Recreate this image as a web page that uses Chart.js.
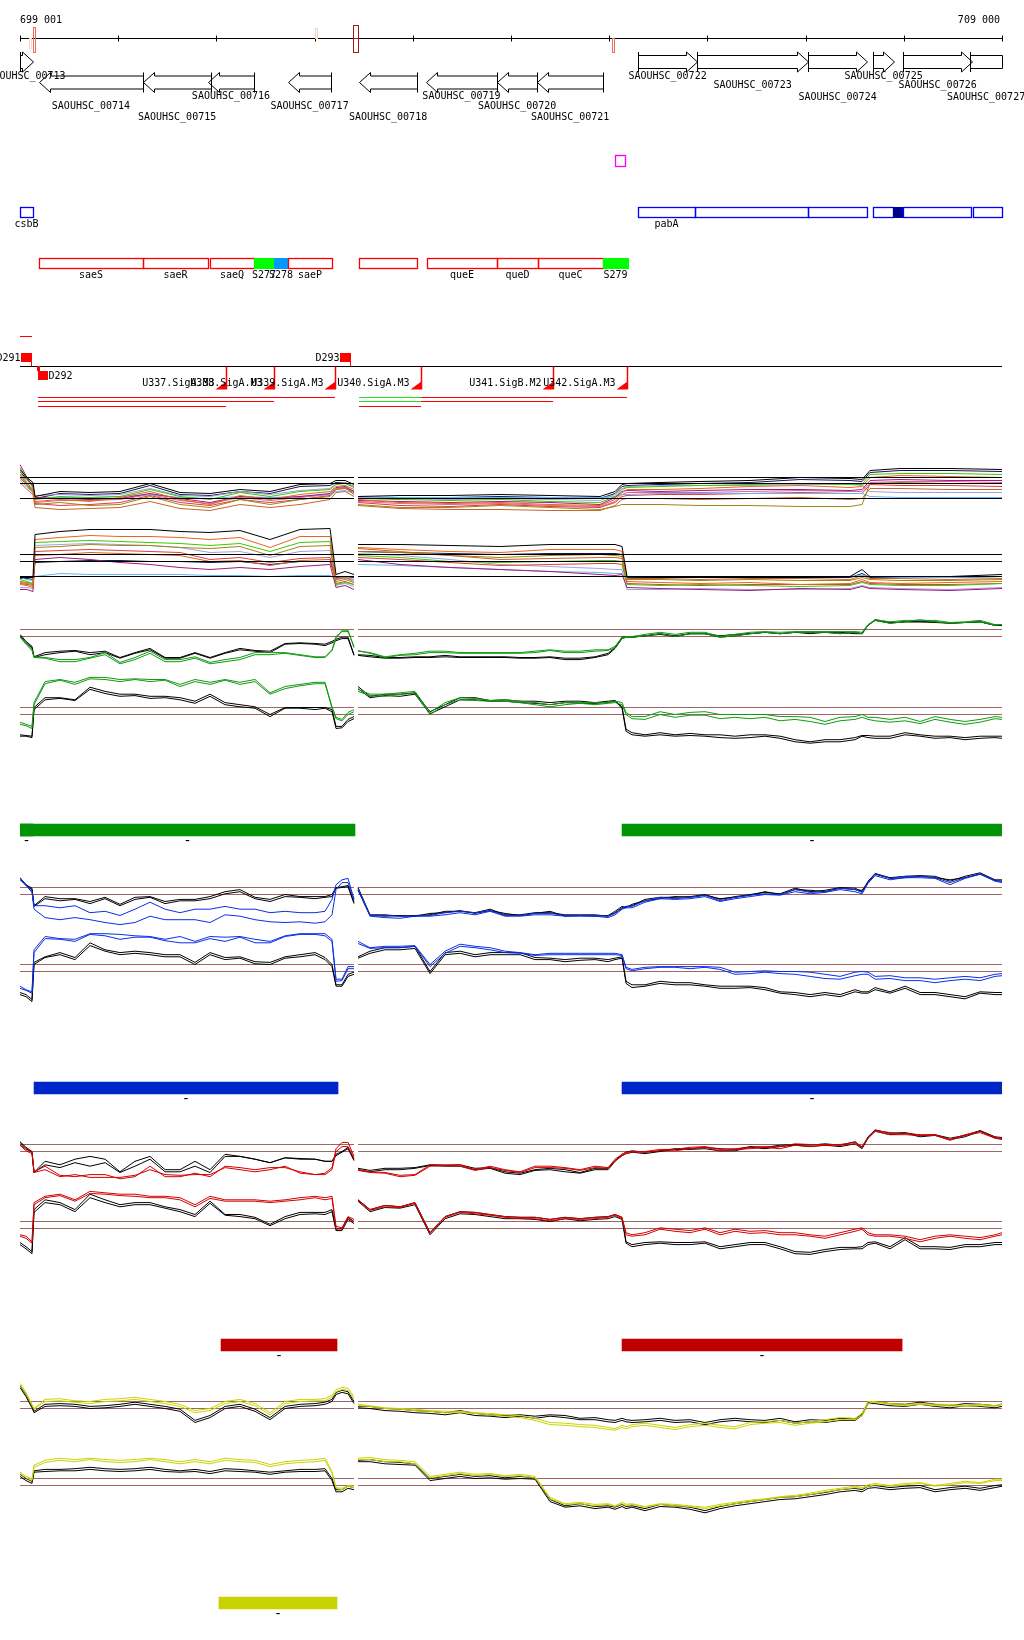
<!DOCTYPE html>
<html>
<head>
<meta charset="utf-8">
<script src="https://cdn.jsdelivr.net/npm/chart.js@4.4.1/dist/chart.umd.min.js"></script>
<style>
  body { margin: 0; background: #fff; }
  #page { position: relative; width: 1024px; height: 1640px; overflow: hidden; background: #fff; }
  #page canvas { position: absolute; left: 0; }
</style>
</head>
<body>
<div id="page"></div>
<script>
// ---- view window (bp) ----
const VIEW_START = 699001;
const VIEW_END = 709000;
const GAP_POS = 702420;

// ---- genes ----
const GENE_NAMES = ["SAOUHSC_00713", "SAOUHSC_00714", "SAOUHSC_00715", "SAOUHSC_00716", "SAOUHSC_00717",
  "SAOUHSC_00718", "SAOUHSC_00719", "SAOUHSC_00720", "SAOUHSC_00721", "SAOUHSC_00722", "SAOUHSC_00723",
  "SAOUHSC_00724", "SAOUHSC_00725", "SAOUHSC_00726", "SAOUHSC_00727"];
const GENE_START = [698700, 699194, 700255, 700915, 701730, 702453, 703135, 703860, 704268, 705294, 705895, 707025, 707687, 707993, 708675];
const GENE_END = [699133, 700253, 700946, 701384, 702168, 703044, 703858, 704266, 704938, 705895, 707025, 707626, 707901, 708695, 709400];
const GENE_STRAND = ["+", "-", "-", "-", "-", "-", "-", "-", "-", "+", "+", "+", "+", "+", "+"];

// marks on the ruler
const MARK_START = [699093, 699133, 702000, 702392, 705030];
const MARK_END = [699113, 699158, 702010, 702443, 705050];
const MARK_KIND = ["faint", "salmon", "peach", "dark", "salmonLow"];

// ---- feature boxes ----
const BLUE_NAMES = ["csbB", "pabA", "", "", "", "", "", ""];
const BLUE_START = [698950, 705294, 705874, 707025, 707687, 707891, 707993, 708705];
const BLUE_END = [699133, 705874, 707025, 707626, 707891, 707993, 708685, 709400];
const BLUE_KIND = ["open", "open", "open", "open", "open", "solid", "open", "open"];

const RED_NAMES = ["saeS", "saeR", "saeQ", "S277", "S278", "saeP", "", "queE", "queD", "queC", "S279"];
const RED_START = [699194, 700253, 700936, 701384, 701588, 701730, 702453, 703145, 703858, 704276, 704938];
const RED_END = [700253, 700915, 701384, 701588, 701730, 702178, 703044, 703858, 704276, 704938, 705192];
const RED_KIND = ["open", "open", "open", "srnaA", "srnaB", "open", "open", "open", "open", "open", "srnaA"];

const SPOT_START = 705060;
const SPOT_END = 705162;

// ---- terminators, promoters, transcripts ----
const TERM_NAMES = ["D291", "D292", "D293"];
const TERM_POS = [699113, 699184, 702362];
const TERM_STRAND = ["+", "-", "+"];

const PROM_NAMES = ["U337.SigA.M3", "U338.SigA.M3", "U339.SigA.M3", "U340.SigA.M3", "U341.SigB.M2", "U342.SigA.M3"];
const PROM_POS = [701099, 701587, 702209, 703084, 704429, 705182];

const TX_START = [699184, 699184, 699184, 702453, 703084, 702453, 703084, 702453];
const TX_END = [702209, 701587, 701099, 703084, 705182, 703084, 704429, 703084];
const TX_LANE = [0, 1, 2, 0, 0, 1, 1, 2];
const TX_KIND = ["main", "main", "main", "alt", "main", "alt", "main", "main"];
const SHORT_SEGMENT = [699001, 699123];

// ---- probe positions (bp) ----
const POS_LEFT = [699001, 699062, 699123, 699144, 699256, 699408, 699561, 699714, 699867, 700019, 700172, 700325,
  700478, 700630, 700783, 700936, 701089, 701241, 701394, 701547, 701700, 701852, 702005, 702107, 702178, 702219,
  702280, 702341, 702402];
const POS_RIGHT = [702443, 702565, 702718, 702871, 703023, 703176, 703329, 703482, 703634, 703787, 703940, 704093,
  704245, 704398, 704551, 704704, 704856, 704989, 705060, 705131, 705172, 705233, 705365, 705518, 705671, 705824,
  705976, 706129, 706282, 706435, 706587, 706740, 706893, 707046, 707198, 707351, 707504, 707575, 707636, 707708,
  707860, 708013, 708166, 708318, 708471, 708624, 708777, 708929, 709000];
const CPOS_LEFT = [699001, 699072, 699133, 699154, 699408, 699714, 700019, 700325, 700630, 700936, 701241, 701547,
  701852, 702158, 702219, 702311, 702402];
const CPOS_RIGHT = [702443, 702871, 703380, 703889, 704398, 704907, 705060, 705131, 705182, 705518, 705925, 706435,
  706944, 707453, 707575, 707656, 707962, 708471, 709000];

// ---- all-condition profiles (score) ----
const A_REF = [37, 31, 16];
const A_K = [[45,37,32,18,23,22,23,31,22,21,25,23,30,31,34,34,30], [18,19,19,20,19,18,23,30,31,32,33,34,37,36,35,44,46,46,45]];
const A_C1 = [[40,30,23,13,15,13,17,23,15,10,19,15,20,23,28,29,25], [15,12,11,12,10,9,15,22,25,25,26,28,29,27,28,37,39,38,37]];
const A_C2 = [[47,35,27,10,12,9,10,18,10,7,15,10,15,18,25,27,20], [10,7,7,9,7,5,8,10,10,10,9,9,8,8,10,31,32,31,31]];
const A_C3 = [[43,32,25,15,18,17,18,25,18,15,22,18,23,25,30,31,27], [16,15,14,15,13,12,18,25,27,28,29,30,31,30,30,40,41,41,40]];
const A_C4 = [[50,37,28,17,16,15,16,21,16,12,18,16,18,21,27,28,23], [14,13,12,13,12,10,17,23,24,23,24,25,25,24,25,34,35,34,34]];
const A_C5 = [[35,27,22,16,17,17,18,20,17,16,18,17,18,20,23,24,21], [18,17,17,17,17,17,18,20,20,21,21,21,21,21,21,18,17,17,17]];
const A_C6 = [[37,29,22,11,9,10,12,19,12,9,15,12,15,19,25,26,22], [12,9,8,10,8,7,12,18,19,20,20,21,22,21,21,30,29,29,28]];
const A_C7 = [[32,25,20,7,5,6,7,13,6,4,10,7,10,15,22,23,18], [9,6,5,5,4,4,9,15,16,16,15,16,17,15,16,26,26,25,25]];
const A_C8 = [[41,31,24,19,20,19,20,26,19,18,23,20,24,26,31,32,28], [17,16,15,16,15,14,20,26,28,29,29,29,30,30,29,23,22,22,22]];
const A_C9 = [[43,35,30,16,21,20,21,29,20,19,23,21,28,29,32,32,28], [16,17,17,18,17,16,21,28,29,30,31,32,35,34,33,42,44,44,43]];
const A_C10 = [[38,31,24,12,14,14,15,20,14,11,17,14,17,20,26,27,23], [13,11,10,11,9,8,13,20,22,22,22,23,24,23,23,32,33,33,32]];

const B_REF = [45, 38, 23];
const B_K = [[22,22,22,65,68,70,70,70,68,67,69,60,70,71,25,28,25], [55,55,54,53,55,55,55,53,23,22,22,22,22,23,30,23,23,23,25]];
const B_C1 = [[15,14,12,60,62,64,63,63,62,60,62,52,63,63,20,22,18], [52,50,48,47,50,50,50,48,18,17,16,17,15,16,20,17,16,17,18]];
const B_C2 = [[17,16,15,52,53,55,54,54,52,51,53,44,53,54,18,20,17], [48,47,44,42,44,45,44,43,20,20,19,20,19,19,22,20,19,19,20]];
const B_C3 = [[20,18,16,57,58,59,58,57,56,54,56,48,57,58,15,17,15], [44,42,38,37,38,39,39,38,15,14,15,14,13,14,17,15,14,14,16]];
const B_C4 = [[10,10,8,40,42,40,37,35,32,30,32,30,33,35,12,14,10], [40,35,32,30,28,25,24,25,12,11,10,9,11,10,13,11,10,9,11]];
const B_C5 = [[22,20,19,23,26,25,25,25,25,24,24,23,24,24,20,21,20], [35,34,32,30,28,27,26,26,23,23,23,23,23,23,24,23,22,22,23]];
const B_C6 = [[16,15,14,48,49,50,49,48,47,40,42,37,41,42,16,18,15], [42,40,37,34,35,36,36,35,16,15,14,15,15,15,18,16,15,15,16]];
const B_C7 = [[18,17,16,44,45,47,46,45,44,38,39,34,39,40,21,22,20], [51,48,44,40,41,42,42,41,21,21,20,21,21,20,24,21,21,20,21]];
const B_C8 = [[12,12,11,54,55,56,55,54,52,47,48,42,48,49,14,16,13], [46,44,40,35,33,31,30,30,10,10,11,10,10,11,14,12,11,10,12]];
const B_C9 = [[21,21,20,37,38,39,39,38,38,37,38,35,38,38,22,23,22], [48,47,46,45,46,46,46,45,22,22,22,22,22,22,26,22,22,22,23]];

// ---- condition profiles (log2 signal); thresholds ----
const THRESHOLD_LOW = 5;
const THRESHOLD_HIGH = 6;

const C_UP_K1 = [[5.3,4.3,3.6,2.1,2.7,2.9,3.0,2.7,2.9,2.0,2.7,3.3,2.0,2.0,2.7,2.0,2.7,3.3,3.0,2.9,4.0,4.1,4.0,3.9,4.3,4.6,4.9,4.9,2.4],
  [2.4,2.3,2.0,2.0,2.1,2.1,2.3,2.1,2.1,2.1,2.1,2.0,2.0,2.1,1.9,1.9,2.1,2.6,3.4,4.9,5.0,4.9,5.1,5.3,5.0,5.4,5.4,5.1,5.3,5.4,5.6,5.4,5.6,5.4,5.6,5.6,5.4,5.4,6.6,7.4,7.0,7.1,7.1,7.0,6.9,7.0,7.1,6.6,6.6]];
const C_UP_K2 = [[5.1,4.1,3.4,2.0,2.4,2.7,2.9,2.4,2.7,1.9,2.6,3.1,1.9,1.9,2.6,1.9,2.6,3.1,2.9,2.7,3.9,4.0,3.9,3.7,4.1,4.4,4.7,4.7,2.3],
  [2.3,2.1,1.9,1.9,2.0,2.0,2.1,2.0,2.0,2.0,2.0,1.9,1.9,2.0,1.7,1.7,2.0,2.4,3.3,4.7,4.9,4.9,5.1,5.4,5.1,5.4,5.4,4.9,5.1,5.4,5.6,5.4,5.6,5.6,5.6,5.4,5.6,5.4,6.6,7.3,6.9,7.1,7.1,7.1,6.9,7.0,7.1,6.6,6.6]];
const C_UP_G1 = [[5.0,4.1,3.1,2.1,2.0,1.7,1.7,2.0,2.7,1.3,2.0,2.9,1.7,1.7,2.1,1.3,1.7,2.0,2.7,2.7,2.7,2.4,2.1,2.1,3.1,5.0,5.7,5.7,3.6],
  [2.9,2.7,2.1,2.4,2.6,2.9,2.9,2.7,2.7,2.7,2.7,2.7,2.9,3.1,2.9,2.9,3.1,3.1,3.6,4.9,5.0,5.0,5.3,5.6,5.3,5.6,5.6,5.0,5.3,5.6,5.7,5.6,5.7,5.7,5.7,5.7,5.7,5.6,6.7,7.4,7.1,7.3,7.3,7.3,7.0,7.1,7.3,6.7,6.7]];
const C_UP_G2 = [[4.9,3.9,3.0,2.0,1.9,1.4,1.4,1.9,2.4,1.1,1.7,2.6,1.4,1.4,1.9,1.1,1.4,1.7,2.4,2.4,2.6,2.3,2.0,2.0,3.0,4.7,5.9,5.9,3.4],
  [3.0,2.6,2.0,2.3,2.4,2.7,2.7,2.6,2.6,2.6,2.6,2.6,2.7,3.0,2.7,2.7,2.9,3.0,3.4,4.7,4.9,4.9,5.1,5.4,5.0,5.4,5.4,4.9,5.1,5.4,5.6,5.4,5.6,5.6,5.6,5.4,5.6,5.4,6.6,7.3,6.9,7.1,7.4,7.1,6.9,7.0,7.1,6.6,6.7]];
const C_LO_K1 = [[1.9,1.9,1.7,6.0,7.4,7.4,7.1,8.9,8.3,7.9,7.9,7.6,7.6,7.4,6.9,7.9,6.7,6.4,6.1,5.0,6.0,6.0,6.0,6.0,5.7,3.3,3.3,4.3,4.7],
  [9.0,7.6,7.9,7.9,8.1,5.4,6.4,7.4,7.4,7.0,7.1,6.9,6.9,6.7,6.9,6.9,6.7,6.9,7.0,6.1,2.9,2.4,2.1,2.4,2.1,2.3,2.1,2.1,1.9,2.1,2.1,1.9,1.4,1.1,1.4,1.4,1.7,2.0,2.0,1.9,1.9,2.4,2.1,1.9,1.9,1.7,1.9,1.9,1.9]];
const C_LO_K2 = [[2.1,2.0,1.9,5.7,7.1,7.3,7.0,8.6,8.0,7.6,7.7,7.3,7.4,7.1,6.6,7.6,6.4,6.1,5.9,4.7,5.9,5.9,5.7,5.9,5.4,3.0,3.1,4.0,4.4],
  [8.7,7.4,7.7,7.6,7.9,5.1,6.1,7.1,7.1,6.9,6.9,6.7,6.6,6.4,6.7,6.6,6.6,6.7,6.9,5.9,2.6,2.1,1.9,2.1,1.9,2.0,1.9,1.7,1.6,1.7,1.9,1.6,1.1,0.9,1.1,1.1,1.4,1.9,1.7,1.6,1.6,2.1,1.9,1.6,1.7,1.4,1.6,1.7,1.6]];
const C_LO_G1 = [[3.9,3.6,3.3,6.7,9.7,10.0,9.6,10.3,10.3,10.0,10.1,10.0,10.0,9.3,10.0,9.6,10.0,9.6,10.0,8.1,9.0,9.3,9.6,9.6,6.1,4.6,4.3,5.3,5.7],
  [8.6,7.9,7.9,8.1,8.3,5.3,6.7,7.4,7.3,7.0,7.1,6.9,6.7,6.4,6.7,6.7,6.7,6.7,6.9,6.7,5.3,4.7,4.7,5.4,5.0,5.3,5.4,5.0,5.0,5.0,5.0,4.7,4.7,4.6,4.0,4.6,4.7,5.0,4.6,4.6,4.3,4.6,4.0,4.7,4.3,4.0,4.3,4.7,4.6]];
const C_LO_G2 = [[3.6,3.4,3.0,6.4,9.4,9.9,9.3,10.1,10.0,9.7,10.0,9.7,9.9,9.0,9.7,9.3,9.9,9.3,9.7,7.9,8.7,9.1,9.4,9.4,5.9,4.4,4.1,5.0,5.4],
  [8.3,7.7,7.6,7.9,8.0,5.0,6.4,7.1,7.0,6.9,6.9,6.7,6.4,6.1,6.4,6.6,6.4,6.6,6.7,6.4,5.0,4.4,4.3,5.0,4.6,4.9,4.9,4.4,4.6,4.4,4.6,4.1,4.3,4.0,3.6,4.1,4.3,4.6,4.3,4.1,3.9,4.1,3.7,4.3,3.9,3.6,3.9,4.4,4.3]];

const E_UP_K1 = [[7.4,6.4,5.9,3.4,4.7,4.4,4.4,4.0,4.6,3.6,4.6,4.7,4.0,4.3,4.3,4.7,5.4,5.7,4.6,4.3,5.0,4.7,4.7,4.7,5.0,6.0,6.1,6.3,3.9],
  [6.0,2.1,2.1,1.9,2.0,2.1,2.6,2.6,2.4,2.9,2.1,2.1,2.4,2.4,2.1,2.1,2.1,1.9,2.4,3.1,3.3,3.4,4.3,4.6,4.6,4.7,5.0,4.3,4.7,5.0,5.3,5.1,5.9,5.4,5.6,6.0,5.9,5.4,6.9,8.0,7.4,7.6,7.7,7.6,6.9,7.6,8.1,7.1,7.1]];
const E_UP_K2 = [[7.3,6.3,5.7,3.3,4.4,4.1,4.3,3.7,4.4,3.4,4.3,4.6,3.7,4.1,4.1,4.4,5.1,5.4,4.4,4.0,4.7,4.6,4.4,4.6,4.7,5.9,6.0,6.1,3.7],
  [5.6,2.0,1.9,2.0,1.9,2.3,2.4,2.7,2.3,2.7,2.3,2.0,2.3,2.6,1.9,2.0,1.9,2.0,2.6,3.3,3.1,3.6,4.1,4.4,4.7,4.6,4.9,4.4,4.6,4.9,5.4,5.0,5.7,5.6,5.4,5.9,5.7,5.6,6.7,7.9,7.3,7.4,7.6,7.4,7.1,7.4,7.9,7.0,6.9]];
const E_UP_B1 = [[7.4,6.4,5.4,3.4,3.4,3.1,3.4,2.4,2.6,2.0,2.9,3.9,2.9,2.4,2.9,2.9,3.3,2.9,2.9,2.4,2.6,2.4,2.4,2.6,4.3,6.4,7.1,7.3,4.3],
  [5.9,2.0,2.0,1.9,1.9,2.0,2.4,2.6,2.4,2.7,2.0,2.0,2.3,2.3,2.0,2.0,2.0,1.9,2.3,3.0,3.3,3.3,4.1,4.6,4.4,4.6,4.9,4.1,4.6,4.9,5.1,5.0,5.7,5.3,5.4,5.9,5.7,5.3,6.7,8.0,7.3,7.6,7.6,7.4,6.7,7.4,8.0,7.0,6.9]];
const E_UP_B2 = [[7.1,6.3,5.3,2.9,1.7,1.4,1.7,1.4,1.0,0.7,1.0,1.9,1.4,1.4,1.4,1.0,2.1,1.9,1.4,1.1,1.0,1.1,0.9,1.1,2.1,5.7,6.7,6.7,4.3],
  [5.7,1.9,1.7,1.6,1.9,1.9,2.1,2.4,2.1,2.6,1.9,1.9,2.1,2.1,1.9,1.9,1.9,1.7,2.1,2.9,3.1,3.1,3.9,4.4,4.3,4.4,4.7,4.0,4.4,4.7,5.0,4.9,5.4,5.1,5.3,5.7,5.4,5.1,6.6,7.7,7.1,7.4,7.4,7.3,6.4,7.3,7.9,6.9,6.7]];
const E_LO_K1 = [[2.0,1.7,1.0,6.3,7.1,7.7,7.0,9.1,8.1,7.7,7.9,7.7,7.4,7.4,6.3,7.7,7.0,7.1,6.4,6.3,7.1,7.4,7.7,7.0,6.0,3.1,3.1,4.6,4.9],
  [7.1,7.9,8.4,8.4,8.6,5.0,7.7,7.9,7.4,7.7,7.7,7.7,7.0,6.9,6.7,6.9,6.9,6.7,6.9,7.1,3.6,3.1,3.1,3.6,3.4,3.4,3.1,2.9,2.9,2.9,2.7,2.1,2.0,1.7,2.0,1.7,2.4,2.1,2.1,2.7,2.1,2.9,2.0,2.0,1.7,1.4,2.1,2.0,2.0]];
const E_LO_K2 = [[1.7,1.4,0.7,6.0,7.0,7.4,6.7,8.7,7.9,7.4,7.6,7.4,7.1,7.1,6.0,7.4,6.7,6.9,6.1,6.0,6.9,7.1,7.4,6.7,5.7,2.9,2.9,4.3,4.6],
  [6.9,7.6,8.1,8.1,8.3,4.7,7.4,7.6,7.1,7.4,7.4,7.4,6.7,6.7,6.4,6.6,6.7,6.4,6.7,6.9,3.3,2.7,2.9,3.3,3.1,3.1,2.9,2.6,2.6,2.7,2.4,1.9,1.7,1.4,1.7,1.4,2.1,1.9,1.9,2.4,1.9,2.6,1.7,1.7,1.4,1.1,1.9,1.7,1.7]];
const E_LO_B1 = [[2.9,2.4,2.1,8.1,10.0,9.7,9.6,10.4,10.4,10.3,10.1,10.0,9.6,10.0,9.3,10.0,9.9,10.0,9.6,9.3,10.1,10.4,10.4,10.4,9.6,3.9,3.9,5.7,5.7],
  [9.3,8.4,8.6,8.6,8.7,6.0,7.9,8.9,8.6,8.4,7.9,7.7,7.4,7.6,7.6,7.6,7.6,7.6,7.6,7.4,5.6,5.3,5.6,5.7,5.7,5.7,5.7,5.6,4.9,5.0,5.1,5.0,5.0,4.9,4.6,4.3,4.9,5.0,4.9,4.3,4.4,4.1,4.1,3.9,4.1,4.3,4.1,4.6,4.7]];
const E_LO_B2 = [[2.6,2.3,1.9,7.7,9.7,9.6,9.3,10.3,10.1,9.6,9.9,9.9,9.4,9.1,9.1,9.7,9.3,9.9,9.1,9.1,10.0,10.3,10.3,10.1,9.3,3.6,3.7,5.4,5.4],
  [9.0,8.3,8.4,8.4,8.6,5.7,7.6,8.6,8.4,8.1,7.7,7.6,7.3,7.4,7.4,7.4,7.4,7.4,7.4,7.3,5.4,5.1,5.4,5.6,5.6,5.4,5.6,5.3,4.6,4.7,4.9,4.7,4.6,4.3,4.0,3.9,4.4,4.6,4.6,3.9,4.0,3.7,3.7,3.4,3.7,3.9,3.7,4.3,4.4]];

const F_UP_K1 = [[6.4,5.6,5.0,2.0,3.6,3.1,3.9,4.3,3.9,2.1,3.6,4.3,2.4,2.4,3.6,2.4,4.6,4.3,3.9,3.4,4.1,4.0,3.9,3.6,3.6,4.6,5.0,5.6,3.9],
  [2.6,2.3,2.6,2.6,2.7,3.1,3.0,3.1,2.6,2.7,2.1,1.9,2.4,2.6,2.4,2.0,2.6,2.6,3.7,4.6,4.9,5.1,4.9,5.1,5.4,5.4,5.6,5.4,5.3,5.7,5.6,5.9,6.0,5.9,6.1,5.9,6.4,5.6,7.1,8.1,7.6,7.7,7.3,7.4,6.9,7.3,8.0,7.1,7.0]];
const F_UP_K2 = [[6.3,5.4,4.9,2.0,3.1,2.7,3.4,2.9,3.4,2.0,2.9,3.9,2.1,2.1,2.9,2.0,4.3,4.3,3.9,3.4,4.1,3.9,3.9,3.6,3.6,4.4,4.9,5.4,3.7],
  [2.4,2.1,2.4,2.4,2.6,3.0,2.9,2.9,2.4,2.6,1.9,1.7,2.3,2.4,2.1,1.9,2.4,2.4,3.6,4.4,4.7,4.9,4.7,5.0,5.3,5.3,5.4,5.1,5.1,5.6,5.4,5.7,5.9,5.7,5.9,5.7,6.1,5.4,6.9,7.9,7.4,7.6,7.1,7.3,6.7,7.1,7.9,6.9,6.9]];
const F_UP_R1 = [[6.0,5.3,4.9,2.1,2.9,1.6,1.4,1.7,1.7,1.1,1.4,2.9,1.4,1.4,1.9,1.4,2.9,2.7,2.4,2.7,2.7,2.1,1.7,1.9,2.7,5.4,6.3,6.3,4.3],
  [2.4,2.1,2.0,1.6,1.7,3.1,3.1,3.1,2.4,2.9,2.4,2.1,2.9,2.9,2.7,2.4,2.9,2.7,3.9,4.6,4.9,5.0,5.0,5.3,5.3,5.6,5.7,5.3,5.4,5.6,5.7,5.7,6.1,6.0,6.0,6.0,6.3,5.7,7.0,8.0,7.7,7.6,7.4,7.4,6.7,7.4,7.9,7.0,6.9]];
const F_UP_R2 = [[5.9,5.1,4.7,2.0,2.4,1.4,1.7,1.3,1.3,1.3,1.6,2.4,1.7,1.6,1.7,1.7,2.7,2.4,2.1,2.4,2.9,1.9,1.7,1.7,2.4,5.0,5.7,5.7,4.0],
  [2.3,2.0,1.9,1.4,1.6,2.9,3.0,2.9,2.3,2.7,2.3,2.0,2.7,2.7,2.6,2.3,2.7,2.6,3.7,4.4,4.7,4.9,4.9,5.1,5.1,5.4,5.6,5.1,5.3,5.4,5.6,5.4,5.9,5.7,5.9,5.9,6.1,5.6,6.9,7.9,7.4,7.4,7.3,7.3,6.6,7.3,7.7,6.9,6.7]];
const F_LO_K1 = [[3.0,2.4,1.7,7.7,9.1,8.7,7.7,9.9,9.1,8.4,8.7,8.7,8.1,7.7,7.0,8.9,7.0,7.0,6.6,5.6,6.7,7.3,7.3,7.3,7.7,4.9,5.0,6.6,6.0],
  [9.1,7.7,8.3,8.1,8.7,4.4,6.7,7.4,7.3,7.0,6.7,6.6,6.6,6.3,6.6,6.4,6.6,6.7,7.0,6.6,3.1,2.7,3.0,3.1,3.0,3.0,3.1,2.4,2.7,3.0,3.0,2.4,1.7,1.6,2.0,2.3,2.3,2.4,3.0,3.1,2.4,3.7,2.4,2.4,2.3,2.7,2.7,3.0,3.0]];
const F_LO_K2 = [[2.7,2.1,1.4,7.3,8.7,8.4,7.4,9.4,8.7,8.1,8.4,8.4,7.9,7.4,6.7,8.6,6.9,6.7,6.4,5.4,6.4,7.0,7.1,7.0,7.4,4.7,4.7,6.3,5.7],
  [8.9,7.4,8.0,7.9,8.4,4.1,6.4,7.1,7.0,6.7,6.4,6.4,6.3,6.0,6.4,6.1,6.3,6.4,6.7,6.3,2.9,2.4,2.7,2.9,2.7,2.7,2.9,2.1,2.4,2.7,2.7,2.1,1.4,1.3,1.7,2.0,2.1,2.1,2.7,2.9,2.1,3.4,2.1,2.1,2.0,2.4,2.4,2.7,2.7]];
const F_LO_R1 = [[4.1,3.9,3.1,8.7,9.6,9.9,9.1,10.3,10.1,9.9,9.9,9.6,9.6,9.4,8.4,9.6,9.1,9.1,9.1,8.9,9.1,9.4,9.6,9.4,9.6,5.3,5.1,6.7,6.3],
  [9.1,7.7,8.3,8.1,8.7,4.4,6.7,7.4,7.3,7.0,6.7,6.6,6.6,6.3,6.6,6.4,6.6,6.7,7.0,6.6,4.4,4.1,4.4,5.1,4.9,4.7,5.1,4.4,4.9,4.6,4.7,4.4,4.4,4.1,3.9,4.4,4.9,5.1,4.4,4.1,4.1,3.9,3.4,3.9,4.1,3.9,3.7,4.1,4.4]];
const F_LO_R2 = [[3.9,3.6,2.9,8.4,9.4,9.7,8.9,10.0,9.9,9.7,9.6,9.4,9.4,9.1,8.1,9.3,8.9,8.9,8.9,8.7,8.9,9.1,9.4,9.1,9.3,5.0,4.9,6.4,6.0],
  [9.0,7.6,8.1,8.0,8.6,4.3,6.6,7.3,7.1,6.9,6.6,6.4,6.4,6.1,6.4,6.3,6.4,6.6,6.9,6.4,4.1,3.9,4.1,4.9,4.6,4.4,4.9,4.1,4.6,4.3,4.4,4.1,4.1,3.9,3.6,4.1,4.6,4.9,4.1,3.9,3.9,3.6,3.1,3.6,3.9,3.6,3.4,3.9,4.1]];

const G_UP_K1 = [[8.3,7.0,5.3,4.6,5.6,5.7,5.6,5.3,5.4,5.6,5.9,5.6,5.3,4.9,3.3,4.0,5.3,5.6,4.9,3.7,5.3,5.6,5.7,5.9,6.3,7.3,7.6,7.4,6.0],
  [5.3,5.3,5.0,4.9,4.7,4.6,4.4,4.7,4.3,4.1,4.0,4.1,3.9,4.1,4.0,3.6,3.7,3.4,3.3,3.6,3.4,3.3,3.4,3.6,3.3,3.4,3.0,3.4,3.6,3.4,3.3,3.6,3.1,3.4,3.3,3.6,3.5,4.2,5.9,6.0,5.7,5.6,5.9,5.6,5.4,5.7,5.6,5.4,5.6]];
const G_UP_K2 = [[8.0,6.7,5.1,4.4,5.3,5.4,5.3,5.0,5.1,5.3,5.6,5.3,5.0,4.6,3.0,3.7,5.0,5.3,4.6,3.4,5.0,5.3,5.4,5.6,6.0,7.0,7.3,7.1,5.7],
  [5.1,5.0,4.7,4.6,4.4,4.3,4.1,4.4,4.0,3.9,3.7,3.9,3.6,3.9,3.7,3.4,3.4,3.1,3.0,3.3,3.1,3.0,3.1,3.3,3.0,3.1,2.7,3.1,3.3,3.1,3.0,3.3,2.9,3.1,3.0,3.3,3.3,4.0,5.7,5.7,5.4,5.3,5.6,5.3,5.1,5.4,5.3,5.1,5.3]];
const G_UP_Y1 = [[8.6,7.3,5.6,5.0,6.3,6.4,6.1,6.0,6.3,6.4,6.6,6.3,6.0,5.6,4.7,5.0,6.0,6.3,5.7,4.4,6.0,6.3,6.3,6.4,6.9,7.7,8.0,7.9,6.7],
  [5.6,5.4,5.1,5.0,4.9,4.7,4.6,4.6,4.4,4.3,4.1,4.0,3.6,3.0,2.9,2.7,2.6,2.3,2.1,2.6,2.4,2.7,2.9,2.6,2.3,2.7,2.9,2.6,2.4,3.0,3.1,3.3,2.9,3.1,3.4,3.7,3.6,4.3,6.0,6.0,5.7,5.6,5.7,5.6,5.6,5.4,5.6,5.4,5.7]];
const G_UP_Y2 = [[8.4,7.1,5.4,4.9,6.0,6.1,5.9,5.7,6.0,6.1,6.3,6.0,5.7,5.3,4.4,4.7,5.7,6.0,5.4,4.1,5.7,6.0,6.1,6.1,6.6,7.4,7.7,7.6,6.4],
  [5.4,5.3,5.0,4.9,4.7,4.6,4.4,4.4,4.3,4.1,3.9,3.7,3.3,2.7,2.6,2.4,2.3,2.0,1.9,2.3,2.1,2.4,2.6,2.3,2.0,2.4,2.6,2.3,2.1,2.7,2.9,3.0,2.6,2.9,3.1,3.4,3.4,4.0,5.7,5.9,5.6,5.4,5.6,5.4,5.4,5.3,5.4,5.3,5.6]];
const G_LO_K1 = [[6.6,6.0,5.6,7.1,7.3,7.3,7.4,7.6,7.4,7.3,7.4,7.6,7.3,7.1,7.3,7.0,7.4,7.3,7.1,6.9,7.1,7.3,7.3,7.4,6.0,4.4,4.4,4.9,4.7],
  [8.6,8.7,8.4,8.3,8.1,6.0,6.3,6.6,6.3,6.4,6.1,6.3,6.1,3.0,2.1,2.4,2.0,2.1,1.9,2.3,2.0,2.1,1.7,2.3,2.1,1.9,1.4,2.0,2.4,2.7,3.0,3.3,3.4,3.7,4.0,4.4,4.6,4.4,4.9,5.0,4.7,4.9,5.0,4.4,4.7,4.9,4.6,5.0,5.1]];
const G_LO_K2 = [[6.3,5.7,5.3,6.9,7.0,7.1,7.1,7.3,7.1,7.0,7.1,7.3,7.0,6.9,7.0,6.7,7.1,7.0,6.9,6.6,6.9,7.0,7.0,7.1,5.7,4.1,4.1,4.6,4.4],
  [8.4,8.4,8.1,8.0,7.9,5.7,6.0,6.3,6.0,6.1,5.9,6.0,5.9,2.7,1.9,2.1,1.7,1.9,1.6,2.0,1.7,1.9,1.4,2.0,1.9,1.6,1.1,1.7,2.1,2.4,2.7,3.0,3.1,3.4,3.7,4.1,4.3,4.1,4.6,4.7,4.4,4.6,4.7,4.1,4.4,4.6,4.3,4.7,4.9]];
const G_LO_Y1 = [[6.9,6.3,5.9,7.9,8.6,8.9,8.7,8.9,8.7,8.6,8.7,8.9,8.7,8.4,8.7,8.4,8.9,8.7,8.6,8.0,8.4,8.6,8.7,8.9,7.0,4.7,4.6,5.0,4.9],
  [8.9,9.0,8.7,8.6,8.4,6.3,6.6,6.9,6.6,6.7,6.4,6.6,6.3,3.3,2.4,2.6,2.3,2.4,2.1,2.6,2.3,2.4,2.0,2.4,2.3,2.1,1.9,2.3,2.6,2.9,3.1,3.4,3.6,3.9,4.3,4.6,4.9,4.7,5.1,5.3,5.0,5.3,5.4,5.0,5.3,5.6,5.4,5.9,5.9]];
const G_LO_Y2 = [[6.7,6.1,5.7,7.6,8.3,8.6,8.4,8.7,8.4,8.3,8.4,8.7,8.4,8.1,8.4,8.1,8.6,8.4,8.3,7.7,8.1,8.3,8.4,8.6,6.7,4.6,4.4,4.9,4.7],
  [8.7,8.7,8.4,8.4,8.1,6.1,6.4,6.7,6.4,6.6,6.3,6.4,6.1,3.1,2.3,2.4,2.1,2.3,2.0,2.4,2.1,2.3,1.9,2.3,2.1,2.0,1.7,2.1,2.4,2.7,3.0,3.3,3.4,3.7,4.1,4.4,4.7,4.6,4.9,5.1,4.9,5.1,5.3,4.9,5.1,5.4,5.3,5.7,5.7]];

// ---- enriched regions ----
const GREEN_REG_START = [699001, 699001, 705131];
const GREEN_REG_END = [699133, 702412, 709000];
const BLUE_REG_START = [699144, 705131];
const BLUE_REG_END = [702239, 709000];
const RED_REG_START = [701048, 705131];
const RED_REG_END = [702229, 707983];
const YELLOW_REG_START = [701027];
const YELLOW_REG_END = [702229];

// ================= drawing =================
const MONO = '10px "DejaVu Sans Mono", monospace';
const BROWN = "#a06666";
const page = document.getElementById("page");
const POS = POS_LEFT.concat([GAP_POS], POS_RIGHT);
const CPOS = CPOS_LEFT.concat([GAP_POS], CPOS_RIGHT);
const join = (pair) => pair[0].concat([null], pair[1]);

function addCanvas(top, height) {
  const c = document.createElement("canvas");
  c.width = 1024;
  c.height = height;
  c.style.top = top + "px";
  c.style.width = "1024px";
  c.style.height = height + "px";
  page.appendChild(c);
  return c.getContext("2d");
}

// yMin/yMax are shifted half a pixel so that whole-number levels land on crisp rows
function baseOptions(yMin, yMax, reverse) {
  return {
    responsive: false,
    animation: false,
    events: [],
    layout: { padding: { left: 20, right: 22, top: 0, bottom: 0 } },
    plugins: { legend: { display: false }, tooltip: { enabled: false } },
    elements: { point: { radius: 0 }, line: { borderWidth: 1, tension: 0 } },
    scales: {
      x: { type: "linear", min: VIEW_START, max: VIEW_END, display: false },
      y: { type: "linear", min: yMin, max: yMax, reverse: !!reverse, display: false }
    }
  };
}

function lineSet(pos, values, color, width) {
  return {
    data: values.map((v, i) => ({ x: pos[i], y: v })),
    borderColor: color,
    borderWidth: width || 1,
    pointRadius: 0,
    fill: false,
    spanGaps: false,
    tension: 0
  };
}

function refLine(value, color) {
  const xs = [POS_LEFT[0], POS_LEFT[POS_LEFT.length - 1], GAP_POS, POS_RIGHT[0], POS_RIGHT[POS_RIGHT.length - 1]];
  return lineSet(xs, [value, value, null, value, value], color);
}

function trackChart(top, height, yMin, yMax, datasets) {
  return new Chart(addCanvas(top, height), { type: "line", data: { datasets }, options: baseOptions(yMin, yMax) });
}

// --- annotation layer (ruler, genes, features, promoters) ---
const annotationPlugin = {
  id: "genomeAnnotation",
  afterDraw(chart) {
    const ctx = chart.ctx;
    const xs = chart.scales.x, ys = chart.scales.y;
    const X = v => xs.getPixelForValue(Math.max(VIEW_START, Math.min(VIEW_END, v)));
    const Y = v => ys.getPixelForValue(v);
    const c = v => Math.round(v) + 0.5;
    const fmt = v => String(v).replace(/\B(?=(\d{3})+(?!\d))/g, " ");
    ctx.save();
    ctx.font = MONO;
    ctx.textBaseline = "middle";
    ctx.lineWidth = 1;
    ctx.fillStyle = "#000";

    // ruler
    const ry = c(Y(38));
    ctx.strokeStyle = "#000";
    ctx.beginPath();
    ctx.moveTo(X(VIEW_START), ry);
    ctx.lineTo(X(VIEW_END), ry);
    const tick = p => { const x = c(X(p)); ctx.moveTo(x, ry - 3); ctx.lineTo(x, ry + 3); };
    for (let p = VIEW_START; p < VIEW_END; p += 1000) tick(p);
    tick(VIEW_END);
    ctx.stroke();
    ctx.textAlign = "left";
    ctx.fillText(fmt(VIEW_START), X(VIEW_START), Y(20));
    ctx.textAlign = "right";
    ctx.fillText(fmt(VIEW_END), X(VIEW_END) - 2, Y(20));

    // ruler marks
    const markStyle = {
      faint: ["#f6d4c6", 38, 48], salmon: ["#ec6e5e", 27, 52], peach: ["#f2d2be", 28, 38],
      dark: ["#a81414", 25, 52], salmonLow: ["#ec6e5e", 38, 52]
    };
    MARK_START.forEach((s, i) => {
      const st = markStyle[MARK_KIND[i]];
      const x1 = X(s), w = Math.max(2, X(MARK_END[i]) - x1);
      ctx.strokeStyle = st[0];
      ctx.strokeRect(c(x1), c(Y(st[1])), Math.round(w), Math.round(Y(st[2]) - Y(st[1])));
      if (MARK_KIND[i] === "dark") {
        ctx.beginPath(); ctx.moveTo(x1, ry); ctx.lineTo(x1 + w, ry); ctx.stroke();
      }
    });

    // genes
    ctx.strokeStyle = "#000";
    const HB = 6.5, HH = 10, HEAD = 11;
    const LABEL_OFF = [14, 23.5, 35];
    GENE_NAMES.forEach((name, i) => {
      const fwd = GENE_STRAND[i] === "+";
      const cy = fwd ? Y(62) : Y(82.5);
      const x1 = c(X(GENE_START[i])), x2 = c(X(GENE_END[i]));
      const headClipped = fwd ? GENE_END[i] > VIEW_END : GENE_START[i] < VIEW_START;
      const L = headClipped ? 0 : Math.min(HEAD, x2 - x1);
      ctx.beginPath();
      if (fwd) {
        ctx.moveTo(x1, cy - HB); ctx.lineTo(x2 - L, cy - HB);
        if (L) { ctx.lineTo(x2 - L, cy - HH); ctx.lineTo(x2, cy); ctx.lineTo(x2 - L, cy + HH); }
        ctx.lineTo(x2 - L, cy + HB); ctx.lineTo(x1, cy + HB);
        ctx.moveTo(x1, cy - HH); ctx.lineTo(x1, cy + HH);
      } else {
        ctx.moveTo(x2, cy - HB); ctx.lineTo(x1 + L, cy - HB);
        if (L) { ctx.lineTo(x1 + L, cy - HH); ctx.lineTo(x1, cy); ctx.lineTo(x1 + L, cy + HH); }
        ctx.lineTo(x1 + L, cy + HB); ctx.lineTo(x2, cy + HB);
        ctx.moveTo(x2, cy - HH); ctx.lineTo(x2, cy + HH);
      }
      ctx.stroke();
      ctx.textAlign = "center";
      ctx.fillText(name, (X(GENE_START[i]) + X(GENE_END[i])) / 2, cy + LABEL_OFF[i % 3]);
    });

    // feature boxes
    const boxRow = (names, starts, ends, kinds, cy, outline) => {
      names.forEach((name, i) => {
        const x1 = X(starts[i]), x2 = X(ends[i]);
        const kind = kinds[i];
        if (kind === "open") {
          ctx.strokeStyle = outline;
          ctx.lineWidth = 1.3;
          ctx.strokeRect(c(x1), c(cy - 5), Math.round(x2 - x1), 10);
        } else {
          ctx.fillStyle = { solid: "#000090", srnaA: "#00ff00", srnaB: "#0099ff" }[kind];
          ctx.fillRect(Math.round(x1), Math.round(cy - 5), Math.round(x2 - x1) + 1, 11);
        }
        if (name) {
          ctx.fillStyle = "#000";
          ctx.textAlign = "center";
          ctx.fillText(name, (x1 + x2) / 2, cy + 12.5);
        }
      });
      ctx.lineWidth = 1;
    };
    boxRow(BLUE_NAMES, BLUE_START, BLUE_END, BLUE_KIND, Y(212), "#0000ff");
    boxRow(RED_NAMES, RED_START, RED_END, RED_KIND, Y(263), "#ff0000");

    ctx.strokeStyle = "#ff00ff";
    ctx.lineWidth = 1.3;
    ctx.strokeRect(c(X(SPOT_START)), c(Y(155)), Math.round(X(SPOT_END) - X(SPOT_START)), 11);
    ctx.lineWidth = 1;

    // promoter / terminator track
    const by = c(Y(366));
    ctx.strokeStyle = "#000";
    ctx.beginPath(); ctx.moveTo(X(VIEW_START), by); ctx.lineTo(X(VIEW_END), by); ctx.stroke();

    ctx.strokeStyle = "#ff0000";
    ctx.beginPath(); ctx.moveTo(X(SHORT_SEGMENT[0]), c(Y(336))); ctx.lineTo(X(SHORT_SEGMENT[1]), c(Y(336))); ctx.stroke();

    TERM_NAMES.forEach((name, i) => {
      const x = c(X(TERM_POS[i]));
      ctx.strokeStyle = "#ff0000";
      ctx.fillStyle = "#ff0000";
      ctx.beginPath();
      if (TERM_STRAND[i] === "+") {
        ctx.moveTo(x, Y(362)); ctx.lineTo(x, by); ctx.stroke();
        ctx.fillRect(x - 10.5, Y(353), 11, 9);
        ctx.fillStyle = "#000";
        ctx.textAlign = "right";
        ctx.fillText(name, x - 11, Y(358));
      } else {
        ctx.moveTo(x, by); ctx.lineTo(x, Y(371)); ctx.stroke();
        ctx.strokeRect(x - 1, by, 2, 4);
        ctx.fillRect(x - 0.5, Y(371), 10, 9);
        ctx.fillStyle = "#000";
        ctx.textAlign = "left";
        ctx.fillText(name, x + 10, Y(376));
      }
    });

    PROM_NAMES.forEach((name, i) => {
      const x = c(X(PROM_POS[i]));
      ctx.strokeStyle = "#ff0000";
      ctx.fillStyle = "#ff0000";
      ctx.lineWidth = 1.5;
      ctx.beginPath(); ctx.moveTo(x, by); ctx.lineTo(x, Y(389)); ctx.stroke();
      ctx.lineWidth = 1;
      ctx.beginPath();
      ctx.moveTo(x + 0.5, Y(381)); ctx.lineTo(x + 0.5, Y(389.5)); ctx.lineTo(x - 11, Y(389.5)); ctx.closePath();
      ctx.fill();
      ctx.fillStyle = "#000";
      ctx.textAlign = "right";
      ctx.fillText(name, x - 12, Y(383));
    });

    const laneY = [397, 401, 406];
    TX_START.forEach((s, i) => {
      ctx.strokeStyle = TX_KIND[i] === "alt" ? "#22dd22" : "#ff0000";
      const y = c(Y(laneY[TX_LANE[i]]));
      ctx.beginPath(); ctx.moveTo(X(s), y); ctx.lineTo(X(TX_END[i]), y); ctx.stroke();
    });
    ctx.restore();
  }
};

new Chart(addCanvas(0, 420), {
  type: "scatter",
  data: { datasets: [] },
  options: baseOptions(0, 420, true),
  plugins: [annotationPlugin]
});

// --- all-condition panels ---
const PALETTE = ["#e8641e", "#a08418", "#3cc800", "#a01878", "#64b4f0", "#e03c3c", "#c8642a", "#a0a0e0", "#141450", "#e060a0"];
const A_SETS = [A_C1, A_C2, A_C3, A_C4, A_C5, A_C6, A_C7, A_C8, A_C9, A_C10];
const B_SETS = [B_C1, B_C2, B_C3, B_C4, B_C5, B_C6, B_C7, B_C8, B_C9];

function bundlePanel(top, height, refs, black, sets) {
  const ds = refs.map(r => refLine(r, "#000"));
  ds.push(lineSet(CPOS, join(black), "#000"));
  sets.forEach((s, i) => ds.push(lineSet(CPOS, join(s), PALETTE[i])));
  trackChart(top, height, -0.5, height - 0.5, ds);
}
bundlePanel(455, 60, A_REF, A_K, A_SETS);
bundlePanel(520, 80, B_REF, B_K, B_SETS);

// --- per-condition panels ---
function signalTrack(top, colored, blacks, color) {
  const ds = [];
  colored.forEach(v => ds.push(lineSet(POS, join(v), color)));
  blacks.forEach(v => ds.push(lineSet(POS, join(v), "#000")));
  ds.push(refLine(THRESHOLD_HIGH, BROWN), refLine(THRESHOLD_LOW, BROWN));
  trackChart(top, 98, -1 / 14, 14 - 1 / 14, ds);
}
const GREEN_LINE = "#109a10", BLUE_LINE = "#0a2ee6", RED_LINE = "#d20000", YELLOW_LINE = "#c8d400";
signalTrack(574, [C_UP_G1, C_UP_G2], [C_UP_K1, C_UP_K2], GREEN_LINE);
signalTrack(652, [C_LO_G1, C_LO_G2], [C_LO_K1, C_LO_K2], GREEN_LINE);
signalTrack(832, [E_UP_B1, E_UP_B2], [E_UP_K1, E_UP_K2], BLUE_LINE);
signalTrack(909, [E_LO_B1, E_LO_B2], [E_LO_K1, E_LO_K2], BLUE_LINE);
signalTrack(1089, [F_UP_R1, F_UP_R2], [F_UP_K1, F_UP_K2], RED_LINE);
signalTrack(1166, [F_LO_R1, F_LO_R2], [F_LO_K1, F_LO_K2], RED_LINE);
signalTrack(1346, [G_UP_Y1, G_UP_Y2], [G_UP_K1, G_UP_K2], YELLOW_LINE);
signalTrack(1423, [G_LO_Y1, G_LO_Y2], [G_LO_K1, G_LO_K2], YELLOW_LINE);

// --- enriched region bars ---
const strandLabelPlugin = {
  id: "strandLabels",
  afterDraw(chart) {
    const ctx = chart.ctx, xs = chart.scales.x;
    ctx.save();
    ctx.font = '14px "DejaVu Sans Mono", monospace';
    ctx.fillStyle = "#000";
    ctx.textAlign = "center";
    ctx.textBaseline = "middle";
    chart.data.datasets.forEach((ds, i) => {
      const [s, e] = ds.data[0];
      const bar = chart.getDatasetMeta(i).data[0];
      ctx.fillText("-", (xs.getPixelForValue(s) + xs.getPixelForValue(e)) / 2, bar.y + bar.height / 2 + 5);
    });
    ctx.restore();
  }
};

function regionBars(barTop, starts, ends, color) {
  const opts = baseOptions(0, 1);
  opts.indexAxis = "y";
  opts.scales.y = { type: "category", display: false };
  new Chart(addCanvas(barTop - 9, 30), {
    type: "bar",
    data: {
      labels: ["region"],
      datasets: starts.map((s, i) => ({
        data: [[s, ends[i]]], backgroundColor: color, borderWidth: 0, barThickness: 12, grouped: false
      }))
    },
    options: opts,
    plugins: [strandLabelPlugin]
  });
}
regionBars(824, GREEN_REG_START, GREEN_REG_END, "#009406");
regionBars(1082, BLUE_REG_START, BLUE_REG_END, "#0026c8");
regionBars(1339, RED_REG_START, RED_REG_END, "#be0000");
regionBars(1597, YELLOW_REG_START, YELLOW_REG_END, "#c8d200");
</script>
</body>
</html>
